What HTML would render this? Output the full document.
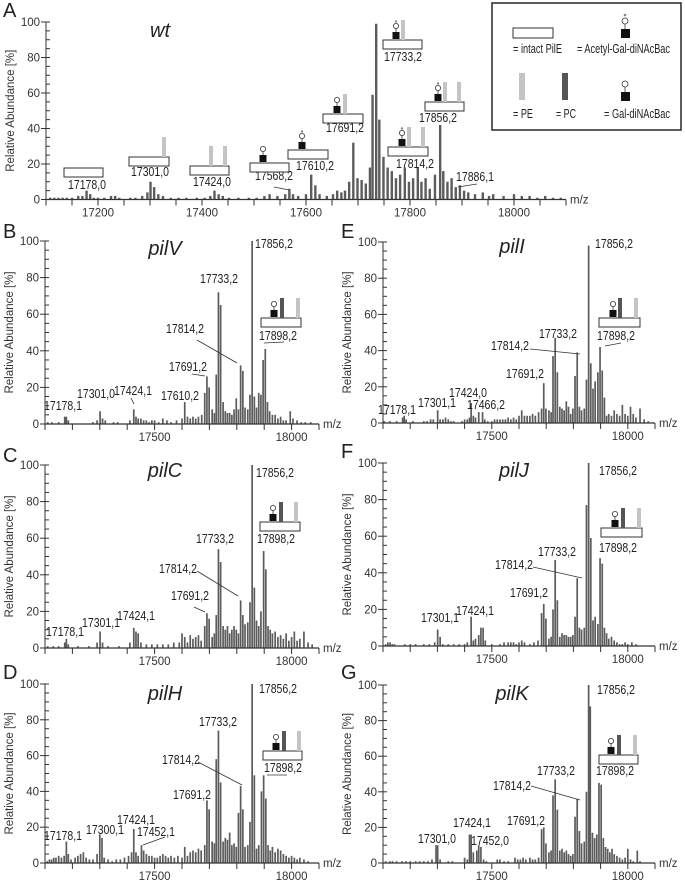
<!DOCTYPE html>
<html><head><meta charset="utf-8">
<style>
html,body{margin:0;padding:0;background:#fff;}
svg{display:block;font-family:"Liberation Sans",Arial,sans-serif;}
.tk{font-size:11.5px;fill:#333;}
.lb{font-size:12.5px;fill:#222;}
.ttl{font-size:20px;font-style:italic;fill:#222;}
.yt{font-size:11.5px;fill:#333;}
.let{font-size:20px;fill:#222;}
</style></head>
<body>
<svg id="fig" width="685" height="882" viewBox="0 0 685 882" xmlns="http://www.w3.org/2000/svg"></svg>
<script>
// ---- data: [m/z, relative abundance %] ----
const peaksA=[[17108,1],[17116,1],[17124,1],[17132,1],[17140,1],[17150,1],[17162,2],[17170,2],[17178,5],[17185,3],[17192,1],[17200,1],[17212,1],[17225,2],[17233,2],[17241,1],[17262,1],[17272,1],[17285,2],[17295,4],[17301,10],[17308,7],[17316,3],[17325,2],[17340,1],[17355,1],[17370,1],[17390,1],[17405,1],[17416,2],[17424,5],[17432,3],[17440,2],[17452,1],[17470,1],[17490,1],[17505,1],[17520,2],[17530,3],[17545,2],[17560,3],[17568,6],[17575,3],[17585,2],[17600,3],[17610,14],[17618,8],[17626,3],[17640,2],[17652,3],[17660,5],[17668,4],[17675,5],[17683,10],[17691,32],[17699,12],[17707,11],[17715,9],[17723,18],[17728,59],[17735,99],[17741,45],[17749,24],[17757,18],[17765,16],[17773,12],[17781,14],[17790,18],[17798,10],[17806,12],[17815,18],[17822,10],[17830,12],[17838,6],[17848,14],[17858,42],[17864,16],[17872,10],[17880,12],[17888,7],[17896,8],[17904,5],[17912,4],[17925,3],[17940,4],[17952,2],[17960,3],[17980,2],[18000,3],[18015,2],[18030,2],[18045,1],[18060,2],[18075,1],[18090,1]];
const peaksB=[[17110,1],[17125,1],[17150,1],[17172,4],[17178,4],[17185,2],[17275,1],[17290,2],[17301,7],[17310,3],[17320,2],[17350,1],[17365,1],[17410,2],[17424,8],[17432,4],[17440,3],[17450,3],[17460,2],[17470,2],[17480,1],[17490,2],[17500,2],[17515,1],[17530,3],[17545,2],[17560,1],[17580,2],[17600,3],[17610,12],[17620,4],[17630,3],[17640,4],[17650,3],[17660,4],[17672,5],[17683,17],[17691,26],[17699,20],[17710,8],[17718,6],[17725,27],[17733,72],[17741,65],[17750,12],[17758,7],[17766,6],[17774,6],[17782,5],[17790,8],[17798,14],[17806,8],[17814,32],[17822,29],[17830,9],[17840,8],[17848,16],[17856,100],[17864,15],[17872,9],[17880,17],[17888,16],[17896,35],[17904,41],[17912,12],[17920,7],[17930,5],[17940,5],[17950,3],[17960,4],[17970,2],[17980,2],[17995,7],[18005,3],[18020,2],[18035,1],[18050,1],[18070,1]];
const peaksC=[[17110,1],[17130,1],[17150,1],[17172,3],[17178,5],[17185,2],[17220,1],[17260,1],[17290,3],[17301,9],[17310,3],[17330,1],[17370,1],[17410,3],[17424,11],[17432,9],[17440,8],[17450,3],[17470,2],[17490,2],[17510,2],[17530,2],[17550,2],[17570,3],[17590,3],[17600,8],[17610,6],[17620,3],[17630,7],[17640,5],[17650,6],[17660,7],[17670,4],[17683,12],[17691,19],[17699,16],[17710,6],[17718,8],[17725,18],[17733,54],[17741,47],[17750,12],[17758,10],[17766,12],[17774,8],[17782,10],[17790,12],[17798,10],[17806,8],[17814,26],[17822,18],[17830,13],[17840,14],[17848,25],[17856,100],[17864,33],[17872,15],[17880,12],[17888,20],[17898,53],[17906,43],[17914,12],[17922,10],[17930,8],[17940,9],[17950,6],[17960,7],[17970,5],[17980,8],[17990,4],[18000,6],[18010,9],[18020,4],[18030,5],[18045,9],[18060,3],[18075,2]];
const peaksD=[[17108,1],[17116,2],[17124,2],[17132,3],[17140,3],[17150,4],[17160,3],[17170,4],[17178,12],[17185,5],[17195,2],[17210,3],[17220,4],[17230,5],[17240,6],[17250,3],[17262,2],[17275,2],[17290,5],[17300,16],[17308,14],[17316,3],[17330,2],[17345,1],[17360,2],[17375,2],[17390,3],[17405,4],[17416,6],[17424,19],[17432,6],[17440,4],[17452,10],[17460,7],[17470,5],[17480,4],[17490,4],[17500,3],[17510,3],[17520,4],[17530,5],[17540,4],[17550,3],[17560,4],[17572,3],[17585,4],[17600,3],[17610,9],[17620,4],[17630,6],[17640,7],[17650,6],[17660,8],[17670,7],[17683,10],[17691,35],[17699,30],[17710,12],[17718,11],[17725,58],[17733,74],[17741,45],[17750,12],[17758,14],[17766,13],[17774,17],[17782,10],[17790,11],[17798,9],[17806,28],[17814,43],[17822,30],[17830,9],[17840,10],[17848,23],[17856,100],[17864,49],[17872,8],[17880,10],[17890,40],[17898,49],[17906,36],[17914,10],[17922,7],[17930,9],[17940,6],[17950,8],[17960,7],[17970,5],[17980,4],[17990,3],[18000,4],[18010,3],[18020,2],[18030,3],[18045,2],[18060,1]];
const peaksE=[[17105,1],[17125,1],[17150,1],[17172,3],[17178,4],[17185,2],[17210,1],[17250,1],[17262,1],[17275,2],[17285,2],[17301,7],[17310,2],[17320,2],[17330,3],[17340,2],[17350,1],[17360,1],[17390,1],[17400,2],[17410,2],[17418,3],[17424,11],[17432,4],[17440,3],[17452,6],[17466,6],[17474,2],[17485,1],[17500,1],[17510,2],[17520,2],[17530,2],[17540,2],[17550,2],[17560,3],[17570,2],[17580,3],[17590,2],[17600,4],[17610,7],[17620,4],[17630,4],[17640,4],[17650,5],[17660,4],[17672,6],[17683,8],[17691,22],[17699,8],[17710,7],[17718,6],[17725,37],[17733,47],[17741,28],[17750,9],[17758,8],[17766,7],[17774,12],[17782,9],[17790,5],[17798,8],[17806,26],[17814,39],[17822,9],[17830,7],[17840,8],[17848,24],[17856,98],[17864,33],[17872,19],[17880,23],[17890,28],[17898,42],[17906,29],[17914,14],[17922,4],[17930,5],[17940,4],[17950,7],[17960,5],[17970,4],[17980,10],[17990,5],[18000,4],[18010,9],[18020,5],[18030,3],[18045,8],[18060,2],[18075,1]];
const peaksF=[[17110,1],[17118,2],[17126,2],[17134,1],[17142,1],[17180,1],[17200,1],[17220,1],[17250,1],[17270,1],[17290,2],[17301,9],[17310,5],[17320,1],[17340,1],[17360,1],[17380,1],[17400,1],[17410,2],[17424,16],[17432,3],[17440,4],[17452,6],[17460,10],[17468,10],[17476,3],[17500,1],[17530,1],[17545,2],[17560,2],[17570,2],[17580,2],[17590,1],[17600,2],[17610,3],[17620,2],[17640,1],[17655,2],[17670,3],[17683,18],[17691,23],[17699,15],[17710,4],[17718,5],[17725,20],[17733,47],[17741,25],[17750,5],[17758,7],[17766,6],[17774,6],[17782,5],[17790,5],[17798,6],[17806,16],[17814,37],[17822,10],[17830,9],[17840,10],[17848,77],[17856,100],[17864,59],[17872,14],[17880,16],[17890,12],[17898,48],[17906,45],[17914,10],[17922,7],[17930,4],[17940,5],[17950,3],[17960,2],[17970,1],[17980,1],[17990,2],[18000,1],[18015,2],[18030,1]];
const peaksG=[[17110,1],[17125,1],[17135,1],[17150,1],[17170,1],[17185,1],[17200,1],[17220,1],[17235,1],[17250,1],[17265,1],[17280,2],[17295,10],[17301,10],[17310,2],[17340,1],[17355,1],[17400,3],[17410,2],[17418,16],[17424,16],[17432,6],[17445,7],[17452,10],[17460,9],[17470,2],[17480,1],[17520,2],[17530,2],[17545,1],[17560,1],[17585,3],[17595,2],[17605,2],[17615,3],[17625,2],[17640,3],[17650,2],[17660,2],[17672,3],[17683,19],[17691,20],[17699,11],[17710,6],[17718,7],[17725,38],[17733,47],[17741,30],[17750,7],[17758,8],[17766,6],[17774,7],[17782,5],[17790,4],[17798,5],[17806,26],[17814,36],[17822,18],[17830,11],[17840,12],[17848,40],[17856,100],[17862,88],[17870,17],[17878,14],[17886,16],[17894,45],[17902,44],[17910,14],[17918,9],[17926,8],[17934,6],[17942,8],[17950,5],[17960,4],[17970,3],[17980,2],[17990,3],[18000,8],[18010,2],[18020,1],[18035,7],[18045,1]];
const xTicksA=[17200,17400,17600,17800,18000];
const xTicksSmall=[17500,18000];
const yTicks=[0,20,40,60,80,100];

const NS="http://www.w3.org/2000/svg";
const svg=document.getElementById('fig');
function el(tag,attrs,parent,text){const e=document.createElementNS(NS,tag);for(const k in attrs)e.setAttribute(k,attrs[k]);if(text!==undefined)e.textContent=text;(parent||svg).appendChild(e);return e;}

function panel(cfg){
  const g=el('g',{});
  
  
  const sx=m=>cfg.x0+(m-17100)*(cfg.x1-cfg.x0)/1000;
  const sy=v=>cfg.y0-v*(cfg.y0-cfg.y100)/100;
  cfg.data.forEach(d=>{
    const b=el('rect',{x:sx(d[0])-cfg.bw/2,y:sy(d[1]),width:cfg.bw,height:Math.max(0.6,cfg.y0-sy(d[1])),fill:'#5c5c5c'},g);
    
    
  });
  const ya=el('line',{x1:cfg.x0,y1:cfg.y0,x2:cfg.x0,y2:cfg.y100,stroke:'#333','stroke-width':1},g);
  
  
  for(let v=0;v<=100;v+=5){
    const major=v%20===0;
    el('line',{x1:major?cfg.x0-5:cfg.x0,y1:sy(v),x2:cfg.x0+4,y2:sy(v),stroke:'#333','stroke-width':1},g);
  }
  yTicks.forEach(v=>{
    const t=el('text',{x:cfg.x0-6,y:sy(v)+4,'text-anchor':'end',class:'tk'},g,String(v));
    
    
  });
  const yt=el('text',{transform:`translate(${cfg.x0-32},${(cfg.y0+cfg.y100)/2}) rotate(-90)`,'text-anchor':'middle',class:'yt'},g,'Relative Abundance [%]');
  
  
  const xa=el('line',{x1:cfg.x0,y1:cfg.y0,x2:cfg.x1,y2:cfg.y0,stroke:'#333','stroke-width':1.2},g);
  
  
  for(let m=17100;m<=18100;m+=cfg.tstep){
    el('line',{x1:sx(m),y1:cfg.y0,x2:sx(m),y2:cfg.y0+6,stroke:'#333','stroke-width':1},g);
  }
  cfg.ticks.forEach(m=>{
    const t=el('text',{x:sx(m),y:cfg.y0+17,'text-anchor':'middle',class:'tk'},g,String(m));
    
    
  });
  const mz=el('text',{x:cfg.x1+4,y:cfg.y0+4,class:'tk'},g,'m/z');
  
  
  const L=el('text',{x:cfg.lx,y:cfg.ly,class:'let'},g,cfg.id);
  
  
  const T=el('text',{x:cfg.tx,y:cfg.ty,'text-anchor':'middle',class:'ttl'},g,cfg.title);
  
  
  cfg.labels.forEach(l=>{
    const t=el('text',{x:l[1],y:l[2],'text-anchor':l[3]||'middle',class:'lb',textLength:38,lengthAdjust:'spacingAndGlyphs'},g,l[0]);
    
    
  });
  (cfg.lines||[]).forEach(l=>{el('line',{x1:l[0],y1:l[1],x2:l[2],y2:l[3],stroke:'#333','stroke-width':0.8},g);});
  (cfg.glyphs||[]).forEach(gl=>glyph(g,gl));
}
function glyph(parent,gl){
  const [bx,by,bw,sugar,bars,sdx]=gl;
  const g=el('g',{},parent);
  
  
  el('rect',{x:bx,y:by,width:bw,height:9,fill:'#fff',stroke:'#333','stroke-width':1},g);
  bars.forEach(b=>el('rect',{x:bx+b[0],y:by-20,width:4,height:20,fill:b[1]},g));
  if(sugar){
    const cx=bx+sdx;
    el('line',{x1:cx,y1:by-8,x2:cx,y2:by-13,stroke:'#333','stroke-width':0.8},g);
    el('rect',{x:cx-3.5,y:by-8,width:7,height:7,fill:'#111'},g);
    el('circle',{cx:cx,cy:by-14,r:2.6,fill:'#fff',stroke:'#333','stroke-width':0.8},g);
    if(sugar===2)el('circle',{cx:cx,cy:by-18.5,r:1.2,fill:'#888'},g);
  }
}
const LG='#c4c4c4', DG='#555';
panel({id:'A',title:'wt',data:peaksA,x0:46,x1:566,y0:199.5,y100:22,bw:2.4,tstep:50,ticks:xTicksA,lx:3,ly:17,tx:160,ty:37,
 labels:[['17178,0',87,189],['17301,0',150,176],['17424,0',212,186],['17568,2',274,180],['17610,2',315,170],['17691,2',345,132],['17733,2',403,61],['17814,2',415,168],['17856,2',438,122],['17886,1',475,181]],
 lines:[[274,187,289,190],[458,187,477,184]],
 glyphs:[[64,168,39,0,[]],[129,157,40,0,[[33,LG]]],[190,166,39,0,[[19,LG],[33,LG]]],[250,163,39,1,[],13],[288,150,40,2,[],14],[323,114,40,1,[[20,LG]],14],[383,40,39,2,[[18,LG]],13],[388,147,40,2,[[19,LG],[33,LG]],14],[425,102,39,2,[[18,LG],[32,LG]],13]]});
panel({id:'B',title:'pilV',data:peaksB,x0:45,x1:319,y0:424,y100:241,bw:1.7,tstep:100,ticks:xTicksSmall,lx:3,ly:238,tx:165,ty:255,
 labels:[['17856,2',255,248,'start'],['17733,2',219,283],['17898,2',278,340],['17814,2',185,333],['17691,2',188,371],['17610,2',180,400],['17424,1',133,395],['17301,0',96,398],['17178,1',63,410]],
 lines:[[264,343,284,342],[197,340,237,363],[192,374,205,376],[131,398,134,404]],
 glyphs:[[261,318,40,1,[[19,DG],[35,LG]],13]]});
panel({id:'C',title:'pilC',data:peaksC,x0:45,x1:319,y0:648,y100:465,bw:1.7,tstep:100,ticks:xTicksSmall,lx:3,ly:462,tx:165,ty:477,
 labels:[['17856,2',256,477,'start'],['17898,2',276,543],['17733,2',215,543],['17814,2',178,573],['17691,2',190,600],['17424,1',136,620],['17301,1',101,627],['17178,1',65,636]],
 lines:[[197,571,238,596],[194,607,205,612]],
 glyphs:[[260,522,40,1,[[19,DG],[34,LG]],13]]});
panel({id:'D',title:'pilH',data:peaksD,x0:45,x1:319,y0:863,y100:684,bw:1.7,tstep:100,ticks:xTicksSmall,lx:3,ly:679,tx:165,ty:700,
 labels:[['17856,2',259,693,'start'],['17733,2',218,726],['17898,2',283,772],['17814,2',181,764],['17691,2',192,799],['17424,1',136,824],['17452,1',156,836],['17300,1',105,834],['17178,1',63,840]],
 lines:[[267,775,287,775],[198,762,242,785],[143,845,165,837]],
 glyphs:[[263,751,39,1,[[19,DG],[34,LG]],13]]});
panel({id:'E',title:'pilI',data:peaksE,x0:383,x1:655,y0:423,y100:242,bw:1.7,tstep:100,ticks:xTicksSmall,lx:341,ly:238,tx:512,ty:253,
 labels:[['17856,2',595,248,'start'],['17898,2',616,340],['17733,2',558,338],['17814,2',510,350],['17691,2',525,378],['17424,0',468,397],['17466,2',486,409],['17301,1',437,407],['17178,1',397,414]],
 lines:[[605,346,621,343],[530,349,580,354]],
 glyphs:[[599,318,41,1,[[19,DG],[35,LG]],14]]});
panel({id:'F',title:'pilJ',data:peaksF,x0:383,x1:655,y0:646,y100:463,bw:1.7,tstep:100,ticks:xTicksSmall,lx:341,ly:458,tx:514,ty:477,
 labels:[['17856,2',599,475,'start'],['17898,2',618,552],['17733,2',557,556],['17814,2',514,569],['17691,2',529,597],['17424,1',475,615],['17301,1',440,622]],
 lines:[[533,567,582,578]],
 glyphs:[[601,528,41,1,[[20,DG],[36,LG]],14]]});
panel({id:'G',title:'pilK',data:peaksG,x0:383,x1:655,y0:863,y100:685,bw:1.7,tstep:100,ticks:xTicksSmall,lx:341,ly:679,tx:512,ty:700,
 labels:[['17856,2',597,694,'start'],['17898,2',615,775],['17733,2',556,775],['17814,2',512,790],['17691,2',526,825],['17424,1',472,827],['17452,0',490,845],['17301,0',437,843]],
 lines:[[531,786,580,800]],
 glyphs:[[599,755,39,1,[[18,DG],[34,LG]],12]]});

const lg=el('g',{});


el('rect',{x:492,y:3,width:189,height:127,fill:'#fff',stroke:'#333','stroke-width':1.6},lg);
el('rect',{x:513,y:28,width:40,height:10,fill:'#fff',stroke:'#333','stroke-width':1},lg);
const t1=el('text',{x:513,y:53,class:'lb',textLength:49,lengthAdjust:'spacingAndGlyphs'},lg,'= intact PilE');


el('line',{x1:625,y1:20,x2:625,y2:30,stroke:'#333','stroke-width':0.8},lg);
el('rect',{x:621,y:29,width:9,height:9,fill:'#111'},lg);
el('circle',{cx:625,cy:21,r:3,fill:'#fff',stroke:'#333','stroke-width':0.8},lg);
el('circle',{cx:625,cy:15,r:1.3,fill:'#888'},lg);
const t2=el('text',{x:577,y:53,class:'lb',textLength:93,lengthAdjust:'spacingAndGlyphs'},lg,'= Acetyl-Gal-diNAcBac');


el('rect',{x:519,y:73,width:6,height:27,fill:LG},lg);
const t3=el('text',{x:513,y:118,class:'lb',textLength:20,lengthAdjust:'spacingAndGlyphs'},lg,'= PE');


el('rect',{x:562,y:73,width:6,height:27,fill:DG},lg);
const t4=el('text',{x:556,y:118,class:'lb',textLength:20,lengthAdjust:'spacingAndGlyphs'},lg,'= PC');


el('line',{x1:625,y1:84,x2:625,y2:93,stroke:'#333','stroke-width':0.8},lg);
el('rect',{x:621,y:92,width:9,height:9,fill:'#111'},lg);
el('circle',{cx:625,cy:84,r:3,fill:'#fff',stroke:'#333','stroke-width':0.8},lg);
const t5=el('text',{x:604,y:118,class:'lb',textLength:66,lengthAdjust:'spacingAndGlyphs'},lg,'= Gal-diNAcBac');


</script>
</body></html>
